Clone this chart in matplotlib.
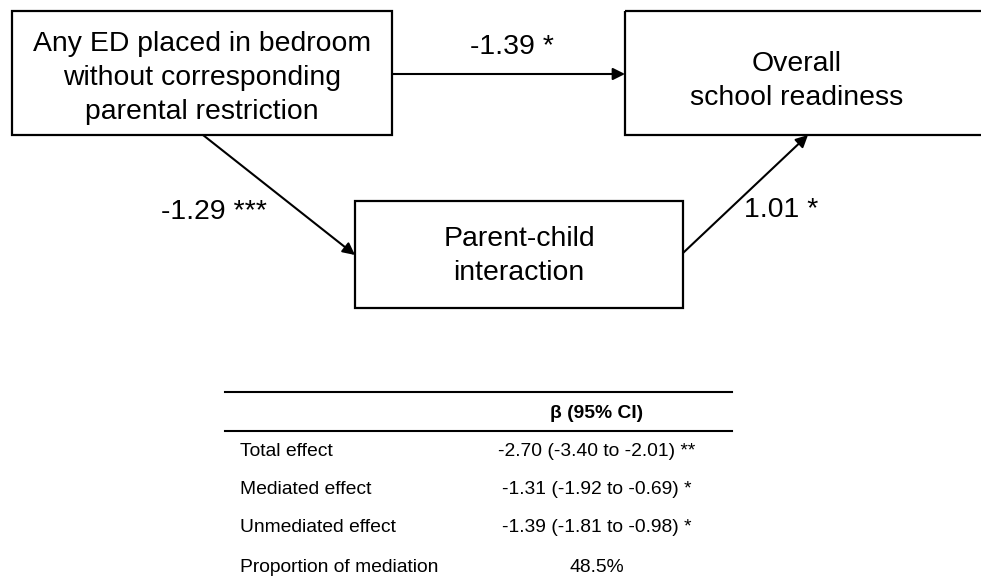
import matplotlib.pyplot as plt
from matplotlib.patches import Rectangle

plt.rcParams['font.family'] = ['Liberation Sans', 'DejaVu Sans']

# variables in the path diagram
node_labels = ['Any ED placed in bedroom\nwithout corresponding\nparental restriction',
               'Overall\nschool readiness',
               'Parent-child\ninteraction']
# path coefficients: direct (a->c), a->b, b->c
path_labels = ['-1.39 *', '-1.29 ***', '1.01 *']

# table under the diagram
table_header = 'β (95% CI)'
row_names = ['Total effect', 'Mediated effect', 'Unmediated effect', 'Proportion of mediation']
row_values = ['-2.70 (-3.40 to -2.01) **', '-1.31 (-1.92 to -0.69) *',
              '-1.39 (-1.81 to -0.98) *', '48.5%']

fig = plt.figure(figsize=(9.81, 5.81), dpi=100)
ax = fig.add_axes([0, 0, 1, 1])
ax.set_xlim(0, 981)
ax.set_ylim(581, 0)
ax.axis('off')

# boxes (x0, y0, x1, y1) and where the text sits inside
boxes = [(12, 11, 392, 135), (625, 11, 990, 135), (355, 201, 683, 308)]
text_pos = [(202, 78), (797, 81), (519, 256)]
for (x0, y0, x1, y1), (tx, ty), lab in zip(boxes, text_pos, node_labels):
    ax.add_patch(Rectangle((x0, y0), x1 - x0, y1 - y0, fill=False, lw=1.6, ec='black'))
    ax.text(tx, ty, lab, ha='center', va='center', fontsize=20.4, linespacing=1.42)

arrow_kw = dict(arrowstyle='-|>', color='black', lw=1.5, mutation_scale=18,
                shrinkA=0, shrinkB=0)
ax.annotate('', xy=(625, 74), xytext=(392, 74), arrowprops=arrow_kw)
ax.annotate('', xy=(355, 255), xytext=(203, 135), arrowprops=arrow_kw)
ax.annotate('', xy=(808, 135), xytext=(683, 253), arrowprops=arrow_kw)

ax.text(512, 47, path_labels[0], ha='center', va='center', fontsize=20.4)
ax.text(214, 212, path_labels[1], ha='center', va='center', fontsize=20.4)
ax.text(781, 210, path_labels[2], ha='center', va='center', fontsize=20.4)

# table
ax.plot([225, 732], [392, 392], color='black', lw=1.5)
ax.plot([225, 732], [431, 431], color='black', lw=1.5)
ax.text(597, 413, table_header, ha='center', va='center', fontsize=13.9, fontweight='bold')
row_y = [451, 490, 528, 567]
for y, name, val in zip(row_y, row_names, row_values):
    ax.text(240, y, name, ha='left', va='center', fontsize=13.9)
    ax.text(597, y, val, ha='center', va='center', fontsize=13.9)

fig.savefig('out.png', dpi=100)
